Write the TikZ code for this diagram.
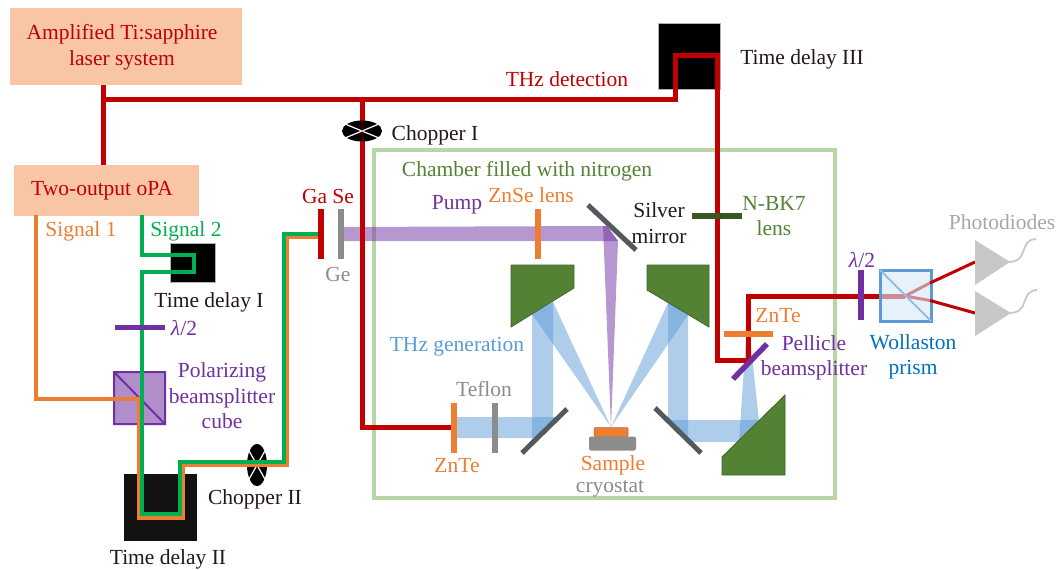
\documentclass[tikz,border=0pt]{standalone}
\usepackage{fontspec}
\setmainfont{Liberation Serif}
\definecolor{laserred}{HTML}{C00000}
\definecolor{boxpeach}{HTML}{F8C6A4}
\definecolor{sigorange}{HTML}{ED7D31}
\definecolor{siggreen}{HTML}{00B050}
\definecolor{optpurple}{HTML}{7030A0}
\definecolor{thzblue}{HTML}{5B9BD5}
\definecolor{wollblue}{HTML}{0070C0}
\definecolor{mirgreen}{HTML}{548235}
\definecolor{dkgreen}{HTML}{385723}
\definecolor{chamber}{HTML}{B7D5A5}
\definecolor{silver}{HTML}{55595D}
\definecolor{inkblack}{HTML}{231815}
\definecolor{diodegray}{HTML}{C8C8C8}
\definecolor{midgray}{HTML}{8C8C8C}
\tikzset{
  lbl/.style={font=\fontsize{21.5}{25.5}\selectfont, inner sep=0pt, align=center, yshift=-1pt},
  redbeam/.style={draw=laserred, line width=5pt, miter limit=10},
  sigbeam/.style={line width=4pt, miter limit=10},
  plate/.style={line width=5.5pt},
  thz/.style={fill=thzblue, fill opacity=.5, draw=none},
  pumpb/.style={fill=optpurple, fill opacity=.5, draw=none},
  parab/.style={fill=mirgreen, draw=dkgreen!70!mirgreen, line width=.8pt},
  delaybox/.style={fill=black, draw=gray!60, line width=.5pt},
  diode/.style={fill=diodegray, draw=none},
}
\begin{document}
\begin{tikzpicture}[x=1pt,y=-1pt]
\useasboundingbox (0,0) rectangle (1058,570);
% chamber
\node[draw=chamber, line width=4pt, minimum width=461pt, minimum height=348pt, inner sep=0pt] (chamberbox) at (604,324) {};
% boxes
\node[fill=boxpeach, minimum width=232pt, minimum height=77pt, inner sep=0pt] (laser) at (126,46.5) {};
\node[fill=boxpeach, minimum width=185pt, minimum height=51pt, inner sep=0pt] (opa) at (106.5,190.5) {};
\node[delaybox, minimum width=45pt, minimum height=39pt, inner sep=0pt] (delayI) at (192.5,262.5) {};
\node[fill=black!93, minimum width=73pt, minimum height=67pt, inner sep=0pt] (delayII) at (160.5,507.5) {};
\node[delaybox, minimum width=62pt, minimum height=66pt, inner sep=0pt] (delayIII) at (689,56) {};
% coordinates of red path
\coordinate (j1) at (103,99);
\coordinate (j2) at (362,99);
\coordinate (r1) at (675,99);
\coordinate (r2) at (675,55);
\coordinate (r3) at (717,55);
\coordinate (r4) at (717,360);
\coordinate (r5) at (748,360);
\coordinate (r6) at (748,296);
\coordinate (r7) at (880,296);
\coordinate (split) at (905,296);
\coordinate (r8) at (362,427);
\coordinate (upE) at (930,283);
\coordinate (loE) at (930,300.5);
% plates' anchors
\coordinate (zntea) at (454,403); \coordinate (znteb) at (454,453);
\coordinate (tefa) at (495,403); \coordinate (tefb) at (495,453);
\coordinate (gasea) at (321,209); \coordinate (gaseb) at (321,259);
\coordinate (gea) at (341,209); \coordinate (geb) at (341,259);
\coordinate (lensa) at (538,209); \coordinate (lensb) at (538,259);
\coordinate (gs) at (321,234);
\coordinate (zntemid) at (454,427);
% THz beams
\fill[thz] (456,417) -- (559,417) -- (538,438) -- (456,438) -- cycle;
\fill[thz] (532,314) -- (553,302) -- (553,422) -- (532,443) -- cycle;
\fill[thz] (532,314) -- (553,302) -- (611,427) -- cycle;
\fill[thz] (668,303) -- (688,315) -- (611,427) -- cycle;
\fill[thz] (668,303) -- (688,315) -- (688,441) -- (668,421) -- cycle;
\fill[thz] (666,420) -- (760,420) -- (737,442) -- (688,442) -- cycle;
\fill[thz] (739,442) -- (759,421) -- (750,337) -- (746,337) -- cycle;
% pump
\fill[pumpb] (341,227) -- (607,226) -- (618,241) -- (341,241) -- cycle;
\fill[pumpb] (603,226) -- (607,226) -- (618,241) -- (611,427) -- cycle;
% green mirrors
\draw[parab] (511,265) -- (574,265) -- (574,288) -- (511,327) -- cycle;
\draw[parab] (647,265) -- (709,265) -- (709,327) -- (647,290) -- cycle;
\draw[parab] (722,457) -- (785,395) -- (785,475) -- (722,475) -- cycle;
% flat mirrors
\draw[silver, line width=5pt] (588,205) -- (636,250);
\draw[silver, line width=5pt] (522,453) -- (567,409);
\draw[silver, line width=5pt] (655,408) -- (701,453);
% sample
\node[fill=sigorange, draw=sigorange!80!black, line width=.5pt, rounded corners=1pt, minimum width=34pt, minimum height=9pt, inner sep=0pt] (sample) at (611,432) {};
\node[fill=midgray, rounded corners=2pt, minimum width=47pt, minimum height=14pt, inner sep=0pt] (cryo) at (612.5,443.5) {};
% chopper II under signal lines
\fill[black] (257,465) ellipse [x radius=10, y radius=21];
\draw[white, line width=1.2pt] (248,449) -- (266,481) (266,449) -- (248,481);
% signal lines
\coordinate (o0) at (36,215); \coordinate (g0) at (142,215);
\draw[sigorange, sigbeam] (o0) -- (36,399) -- (139,399) -- (139,518) -- (183,518) -- (183,465) -- (287,465) -- (287,237) -- (gs |- 0,237);
\coordinate (cubetl) at (114,372); \coordinate (cubebr) at (165,424);
\fill[optpurple, fill opacity=.55] (cubetl) rectangle (cubebr);
\draw[optpurple, line width=2pt] (cubetl) rectangle (cubebr) (cubetl) -- (cubebr);
\draw[sigorange, sigbeam] (36,399) -- (139,399) -- (139,518);
\draw[siggreen, sigbeam] (g0) -- (142,255) -- (194,255) -- (194,272) -- (142,272) -- (142,514) -- (180,514) -- (180,462) -- (284,462) -- (284,234) -- (gs);
% lambda/2 left
\draw[optpurple, line width=5pt] (115,327.5) -- (165,327.5);
% red beams
\draw[redbeam] (laser.south -| j1) -- (opa.north -| j1);
\draw[redbeam] (j1) -- (r1 |- j1) -- (r2) -- (r3) -- (r4) -- (r5) -- (r6) -- (r7);
\draw[redbeam] (j2) -- (r8) -- (zntemid);
\draw[laserred, line width=5pt, opacity=.45] (r7) -- (split);
\draw[laserred, line width=3pt, opacity=.45] (split) -- (upE) (split) -- (loE);
% Wollaston
\fill[wollblue!45!thzblue, fill opacity=.12] (880,270) rectangle (931,321);
\draw[thzblue, line width=3pt] (880,270) rectangle (931,321);
\draw[thzblue!65, line width=2pt] (880,270) -- (931,321);
\coordinate (pd1) at (975,262);
\coordinate (pd2) at (975,313);
\draw[laserred, line width=3pt] (upE) -- (pd1);
\draw[laserred, line width=3pt] (loE) -- (pd2);
% chopper I
\fill[black] (362,131) ellipse [x radius=20, y radius=10.5];
\draw[white, line width=1.2pt] (345,124) -- (379,138) (379,124) -- (345,138);
\draw[laserred, line width=3pt, opacity=.25] (362,121) -- (362,141);
% plates
\draw[laserred, plate] (gasea) -- (gaseb);
\draw[midgray, plate] (gea) -- (geb);
\draw[sigorange, plate] (lensa) -- (lensb);
\draw[sigorange, plate] (zntea) -- (znteb);
\draw[midgray, plate] (tefa) -- (tefb);
\draw[dkgreen, plate] (692,216) -- (742,216);
\draw[sigorange, plate] (724,334) -- (773,334);
\draw[optpurple, plate] (733,379) -- (767,344);
\draw[optpurple, plate] (861,270) -- (861,320);
% photodiodes
\fill[diode] (975,240) -- (1010,262) -- (975,285) -- cycle;
\fill[diode] (975,291) -- (1011,313) -- (975,336) -- cycle;
\draw[diodegray, line width=1.8pt] (1008,262) .. controls (1030,262) and (1018,240) .. (1036,239);
\draw[diodegray, line width=1.8pt] (1009,313) .. controls (1031,313) and (1019,291) .. (1037,290);
% labels
\node[lbl, text=laserred] (tlaser) at (122,46.5) {Amplified Ti:sapphire\\laser system};
\node[lbl, text=laserred] (topa) at (102,190) {Two-output oPA};
\node[lbl, text=sigorange] (ts1) at (81,230) {Signal 1};
\node[lbl, text=siggreen] (ts2) at (186,230) {Signal 2};
\node[lbl, text=inkblack] (tdI) at (209,301) {Time delay I};
\node[lbl, text=optpurple] (tl1) at (184,327) {\textit{λ}/2};
\node[lbl, text=optpurple] (tpbs) at (222,395) {Polarizing\\beamsplitter\\cube};
\node[lbl, text=inkblack] (tc2) at (255,498) {Chopper II};
\node[lbl, text=inkblack] (tdII) at (168,558) {Time delay II};
\node[lbl, text=laserred] (tgase) at (328,195) {Ga Se};
\node[lbl, text=midgray] (tge) at (338,273) {Ge};
\node[lbl, text=laserred] (tthzd) at (567,78) {THz detection};
\node[lbl, text=inkblack] (tdIII) at (802,58) {Time delay III};
\node[lbl, text=inkblack] (tc1) at (435,134) {Chopper I};
\node[lbl, text=mirgreen] (tch) at (527,170) {Chamber filled with nitrogen};
\node[lbl, text=optpurple] (tpump) at (457,204) {Pump};
\node[lbl, text=sigorange] (tznse) at (531,194) {ZnSe lens};
\node[lbl, text=inkblack] (tsilver) at (659,222) {Silver\\mirror};
\node[lbl, text=mirgreen] (tnbk) at (774,215) {N-BK7\\lens};
\node[lbl, text=thzblue] (tthzg) at (457,346) {THz generation};
\node[lbl, text=midgray] (ttef) at (484,388) {Teflon};
\node[lbl, text=sigorange] (tz1) at (457,465) {ZnTe};
\node[lbl, text=sigorange] (tsam) at (613,464) {Sample};
\node[lbl, text=midgray] (tcry) at (610,488) {cryostat};
\node[lbl, text=sigorange] (tz2) at (778,315) {ZnTe};
\node[lbl, text=optpurple] (tpel) at (814,357) {Pellicle\\beamsplitter};
\node[lbl, text=wollblue] (twol) at (913,356) {Wollaston\\prism};
\node[lbl, text=optpurple] (tl2) at (862,259) {\textit{λ}/2};
\node[lbl, text=gray!70] (tpd) at (1002,221) {Photodiodes};
\end{tikzpicture}
\end{document}
